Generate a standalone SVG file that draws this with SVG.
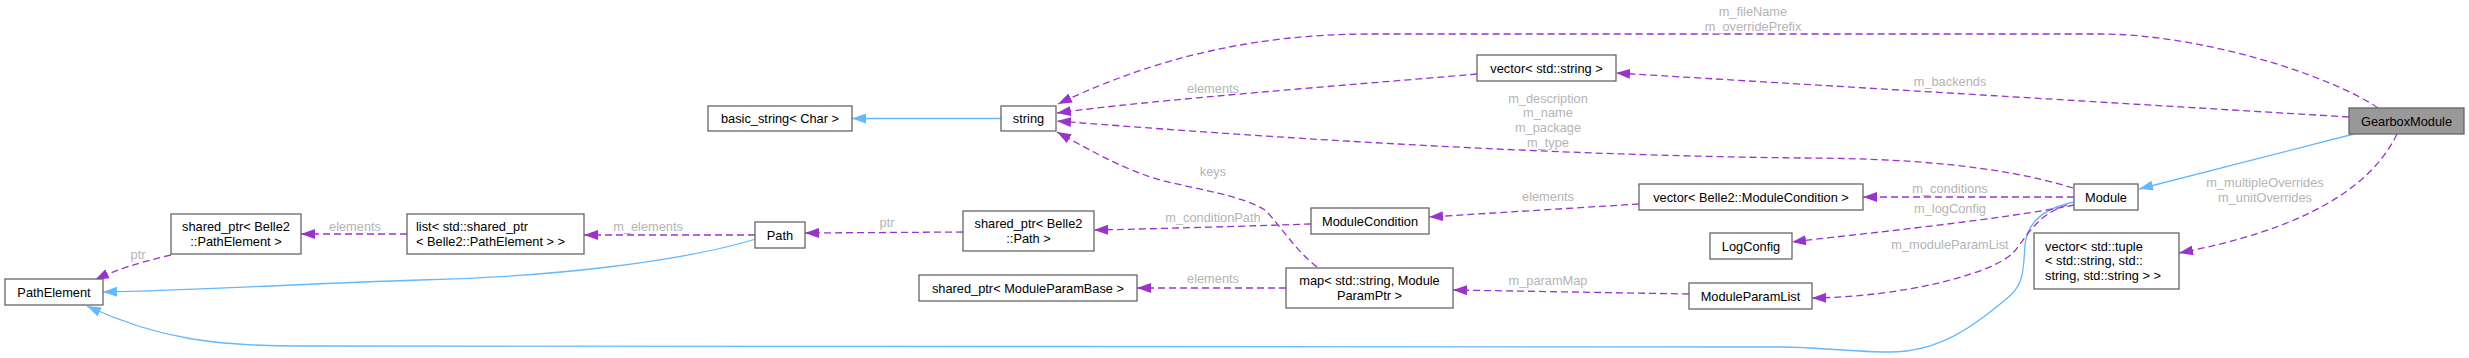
<svg xmlns="http://www.w3.org/2000/svg" width="2469" height="358" viewBox="0 0 2469 358">
<style>
.n rect{fill:#ffffff;stroke:#666666;stroke-width:1.3}
.n.focus rect{fill:#999999}
.n text,.lbl{font-family:"Liberation Sans",Arial,Helvetica,sans-serif;font-size:12.8px;fill:#000000}
.n text.c{text-anchor:middle}
.lbl{fill:#b4b4b4;text-anchor:middle}
.e{fill:none;stroke-width:1.3}
.d{stroke:#9a32cd;stroke-dasharray:7,4;marker-end:url(#ap)}
.b{stroke:#63b8ff;marker-end:url(#ab)}
</style>
<defs>
<marker id="ap" viewBox="0 0 14 10" refX="14" refY="5" markerWidth="14" markerHeight="10" markerUnits="userSpaceOnUse" orient="auto"><path d="M0,0 L14,5 L0,10 z" fill="#9a32cd"/></marker>
<marker id="ab" viewBox="0 0 14 10" refX="14" refY="5" markerWidth="14" markerHeight="10" markerUnits="userSpaceOnUse" orient="auto"><path d="M0,0 L14,5 L0,10 z" fill="#63b8ff"/></marker>
</defs>
<rect width="2469" height="358" fill="#ffffff"/>
<g id="edges">
<path class="e b" d="M1001,118.5 L852,118.5"/>
<path class="e b" d="M756,239 C680,262 550,277 420,280 C300,284 200,290 103,292"/>
<path class="e b" d="M2074,202 C2045,208 2027,222 2025,245 C2023,270 2025,285 2005,300 C1975,325 1940,352 1890,352 C1850,352 1820,347 1780,347 L300,346 C220,346 160,340 87,306"/>
<path class="e b" d="M2354,134 L2139,189"/>
<path class="e d" d="M171,255 C140,262 115,270 95,280"/>
<path class="e d" d="M407,234 L301,234"/>
<path class="e d" d="M755,235 L584,235"/>
<path class="e d" d="M963,232 L805,233"/>
<path class="e d" d="M1311,224 C1250,226 1150,229 1094,230"/>
<path class="e d" d="M1639,204 L1429,217"/>
<path class="e d" d="M1286,288 L1137,288"/>
<path class="e d" d="M1689,294 L1453,290"/>
<path class="e d" d="M1317,267 C1295,250 1280,225 1265,210 C1240,195 1200,190 1160,180 C1120,168 1090,150 1057,132"/>
<path class="e d" d="M1477,74 C1350,85 1150,100 1057,113"/>
<path class="e d" d="M2073,188 C2000,165 1900,158 1800,158 C1550,155 1300,140 1057,121"/>
<path class="e d" d="M2378,108 C2330,75 2200,34 2100,34 L1370,34 C1250,34 1150,60 1058,104"/>
<path class="e d" d="M2349,117 L1616,73"/>
<path class="e d" d="M2397,134 C2370,190 2300,230 2179,253"/>
<path class="e d" d="M2074,197 L1863,197"/>
<path class="e d" d="M2074,205 C2000,220 1850,235 1792,242"/>
<path class="e d" d="M2067,205 C2035,215 2025,240 2013,253 C1990,275 1900,297 1812,298"/>
<text class="lbl" x="138" y="259">ptr</text>
<text class="lbl" x="355" y="231">elements</text>
<text class="lbl" x="648" y="231">m_elements</text>
<text class="lbl" x="887" y="227">ptr</text>
<text class="lbl" x="1213" y="222">m_conditionPath</text>
<text class="lbl" x="1548" y="201">elements</text>
<text class="lbl" x="1213" y="283">elements</text>
<text class="lbl" x="1548" y="285">m_paramMap</text>
<text class="lbl" x="1213" y="176">keys</text>
<text class="lbl" x="1213" y="93">elements</text>
<text class="lbl" x="1548" y="103">m_description</text>
<text class="lbl" x="1548" y="117">m_name</text>
<text class="lbl" x="1548" y="132">m_package</text>
<text class="lbl" x="1548" y="147">m_type</text>
<text class="lbl" x="1753" y="16">m_fileName</text>
<text class="lbl" x="1753" y="31">m_overridePrefix</text>
<text class="lbl" x="1950" y="86">m_backends</text>
<text class="lbl" x="2265" y="187">m_multipleOverrides</text>
<text class="lbl" x="2265" y="202">m_unitOverrides</text>
<text class="lbl" x="1950" y="193">m_conditions</text>
<text class="lbl" x="1950" y="213">m_logConfig</text>
<text class="lbl" x="1950" y="249">m_moduleParamList</text>
</g>
<g id="n_PathElement" class="n"><rect x="5" y="279" width="98" height="26"/><text class="c" x="54" y="296.5">PathElement</text></g>
<g id="n_sp_PathElement" class="n"><rect x="171" y="214" width="130" height="40"/><text class="c" x="236" y="231">shared_ptr&lt; Belle2</text><text class="c" x="236" y="246">::PathElement &gt;</text></g>
<g id="n_list" class="n"><rect x="407" y="214" width="177" height="40"/><text x="416" y="231">list&lt; std::shared_ptr</text><text x="416" y="246">&lt; Belle2::PathElement &gt; &gt;</text></g>
<g id="n_Path" class="n"><rect x="755" y="222" width="50" height="26"/><text class="c" x="780" y="239.5">Path</text></g>
<g id="n_basic_string" class="n"><rect x="708" y="106" width="144" height="25"/><text class="c" x="780" y="123">basic_string&lt; Char &gt;</text></g>
<g id="n_string" class="n"><rect x="1001" y="106" width="55" height="25"/><text class="c" x="1028.5" y="123">string</text></g>
<g id="n_vector_string" class="n"><rect x="1477" y="55" width="139" height="26"/><text class="c" x="1546.5" y="72.5">vector&lt; std::string &gt;</text></g>
<g id="n_sp_Path" class="n"><rect x="963" y="211" width="131" height="40"/><text class="c" x="1028.5" y="228">shared_ptr&lt; Belle2</text><text class="c" x="1028.5" y="243">::Path &gt;</text></g>
<g id="n_ModuleCondition" class="n"><rect x="1311" y="208" width="118" height="26"/><text class="c" x="1370" y="225.5">ModuleCondition</text></g>
<g id="n_sp_ModuleParamBase" class="n"><rect x="919" y="275" width="218" height="26"/><text class="c" x="1028" y="292.5">shared_ptr&lt; ModuleParamBase &gt;</text></g>
<g id="n_map" class="n"><rect x="1286" y="268" width="167" height="40"/><text class="c" x="1369.5" y="285">map&lt; std::string, Module</text><text class="c" x="1369.5" y="300">ParamPtr &gt;</text></g>
<g id="n_vector_ModuleCondition" class="n"><rect x="1639" y="184" width="224" height="26"/><text class="c" x="1751" y="201.5">vector&lt; Belle2::ModuleCondition &gt;</text></g>
<g id="n_LogConfig" class="n"><rect x="1710" y="233" width="82" height="26"/><text class="c" x="1751" y="250.5">LogConfig</text></g>
<g id="n_ModuleParamList" class="n"><rect x="1689" y="283" width="123" height="26"/><text class="c" x="1750.5" y="300.5">ModuleParamList</text></g>
<g id="n_Module" class="n"><rect x="2074" y="184" width="64" height="26"/><text class="c" x="2106" y="201.5">Module</text></g>
<g id="n_vector_tuple" class="n"><rect x="2034" y="233" width="145" height="56"/><text x="2045" y="250.5">vector&lt; std::tuple</text><text x="2045" y="265">&lt; std::string, std::</text><text x="2045" y="279.5">string, std::string &gt; &gt;</text></g>
<g id="n_GearboxModule" class="n focus"><rect x="2349" y="108" width="115" height="26"/><text class="c" x="2406.5" y="125.5">GearboxModule</text></g>
</svg>
